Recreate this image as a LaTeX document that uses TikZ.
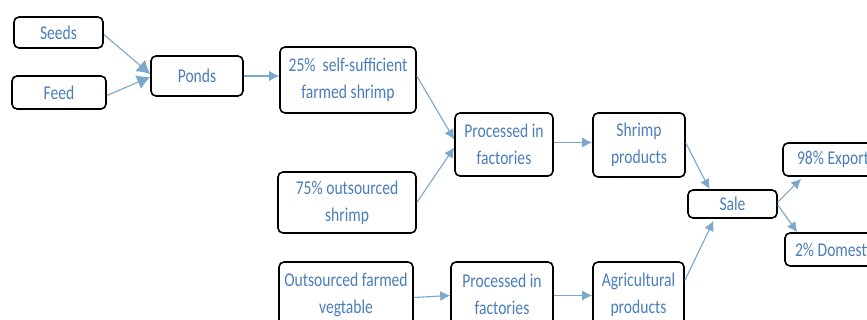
\documentclass[tikz,border=0pt]{standalone}
\usepackage{fontspec}
\setmainfont[FakeStretch=0.8]{Carlito}
\usetikzlibrary{arrows.meta}
\definecolor{txtblue}{RGB}{74,126,187}
\definecolor{arrblue}{RGB}{122,167,204}
\tikzstyle{bx}=[draw=black,line width=1.6pt,rounded corners=5pt,fill=white,inner sep=0pt,align=center,text=txtblue,font=\fontsize{19.5}{27}\selectfont]
\tikzstyle{ar}=[draw=arrblue,line width=1.1pt,-{Latex[length=10pt,width=10pt]}]
\tikzstyle{arbig}=[draw=arrblue,line width=1.1pt,-{Latex[length=13pt,width=15pt]}]

\begin{document}
\begin{tikzpicture}[x=1pt,y=-1pt]
\clip (0,0) rectangle (867,320);
\fill[white] (0,0) rectangle (867,320);
% inputs
\node[bx,minimum width=89pt,minimum height=31pt] (seeds) at (58.5,32.5) {Seeds};
\node[bx,minimum width=94pt,minimum height=33pt] (feed) at (59,92.5) {Feed};
\node[bx,minimum width=92pt,minimum height=40pt] (ponds) at (197,76) {Ponds};
% shrimp line
\node[bx,minimum width=136pt,minimum height=66pt] (selfsuff) at (348,80) {25\%\ \ self-sufficient\\farmed shrimp};
\node[bx,minimum width=138pt,minimum height=61pt] (outsrc) at (347,202.5) {75\% outsourced\\shrimp};
\node[bx,minimum width=98pt,minimum height=63pt] (procA) at (504,144.5) {Processed in\\factories};
\node[bx,minimum width=92pt,minimum height=64pt] (shrimp) at (639,145) {Shrimp\\products};
% vegetable line
\node[bx,minimum width=134pt,minimum height=65pt] (vegsrc) at (346,294.5) {Outsourced farmed\\vegtable};
\node[bx,minimum width=102pt,minimum height=65pt] (procB) at (502,294.5) {Processed in\\factories};
\node[bx,minimum width=91pt,minimum height=65pt] (agri) at (638.5,294.5) {Agricultural\\products};
% sale and markets
\node[bx,minimum width=89pt,minimum height=28pt] (sale) at (732.5,204) {Sale};
\node[bx,minimum width=100pt,minimum height=33pt] (export) at (833,159.5) {98\% Export};
\node[bx,minimum width=102pt,minimum height=33pt] (domestic) at (836,249.5) {2\% Domestic};

\draw[arbig] ([yshift=-2pt]seeds.east) -- ([yshift=2pt]ponds.west);
\draw[arbig] ([yshift=-3pt]feed.east) -- ([yshift=-1pt]ponds.west);
\draw[ar] (ponds.east) -- (ponds.east -| selfsuff.west);
\draw[ar] ([yshift=4pt]selfsuff.east) -- ([yshift=5pt]procA.west);
\draw[ar] (outsrc.east) -- ([yshift=-3pt]procA.west);
\draw[ar] ([yshift=2pt]procA.east) -- ([yshift=2pt]procA.east -| shrimp.west);
\draw[ar] ([yshift=2pt]shrimp.east) -- ([xshift=-23pt]sale.north);
\draw[ar] ([yshift=14pt]agri.east) -- ([xshift=-19pt,yshift=-2pt]sale.south);
\draw[ar] ([yshift=2pt]sale.east) -- ([xshift=19pt,yshift=-2pt]export.south west);
\draw[ar] ([yshift=-1pt]sale.east) -- ([xshift=13pt]domestic.north west);
\draw[ar] ([yshift=-3pt]vegsrc.east) -- ([yshift=-1pt]procB.west);
\draw[ar] ([yshift=-1pt]procB.east) -- ([yshift=-1pt]procB.east -| agri.west);
\end{tikzpicture}
\end{document}
